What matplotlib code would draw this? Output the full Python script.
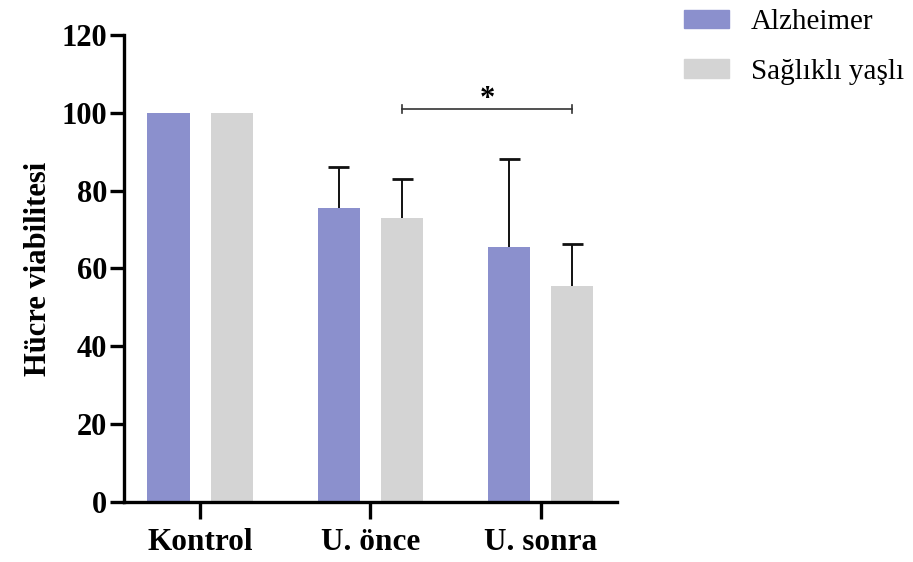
import numpy as np
import matplotlib
matplotlib.use('Agg')
import matplotlib.pyplot as plt
from matplotlib.patches import Patch

# --- Data ---
categories = ['Kontrol', 'U. önce', 'U. sonra']
groups = ['Alzheimer', 'Sağlıklı yaşlı']
alzheimer_mean = [100.0, 75.5, 65.6]
alzheimer_err = [0.0, 10.6, 22.6]
healthy_mean = [100.0, 73.0, 55.6]
healthy_err = [0.0, 10.0, 10.7]
y_ticks = [0, 20, 40, 60, 80, 100, 120]

# --- Style ---
COL_ALZ = '#8b90cd'
COL_HEALTHY = '#d4d4d4'
plt.rcParams['font.family'] = ['Liberation Serif', 'DejaVu Serif']

fig = plt.figure(figsize=(9.13, 5.62), dpi=100)
ax = fig.add_axes([0.1358, 0.1068, 0.54, 0.831])

x = np.arange(len(categories))
offset = 0.1855
width = 0.247
cap_half = 0.062


def upper_errors(xpos, means, errs):
    # only the upper whisker, like the original figure
    for xi, m, e in zip(xpos, means, errs):
        if e <= 0:
            continue
        ax.vlines(xi, m, m + e, color='#111111', lw=1.4, zorder=1)
        ax.hlines(m + e, xi - cap_half, xi + cap_half, color='#111111', lw=2.0, zorder=1)


ax.bar(x - offset, alzheimer_mean, width, color=COL_ALZ, zorder=2)
ax.bar(x + offset, healthy_mean, width, color=COL_HEALTHY, zorder=2)
upper_errors(x - offset, alzheimer_mean, alzheimer_err)
upper_errors(x + offset, healthy_mean, healthy_err)

# significance bracket
x1, x2 = 1 + offset, 2 + offset
y_sig = 101
ax.plot([x1, x2], [y_sig, y_sig], color='#333333', lw=1.2, clip_on=False)
ax.plot([x1, x1], [y_sig - 1, y_sig + 1], color='#333333', lw=1.2)
ax.plot([x2, x2], [y_sig - 1, y_sig + 1], color='#333333', lw=1.2)
ax.text((x1 + x2) / 2, y_sig - 1.4, '*', ha='center', va='bottom',
        fontsize=22, fontweight='bold')

ax.set_xlim(-0.447, 2.447)
ax.set_ylim(0, 120)
ax.set_yticks(y_ticks)
ax.set_yticklabels([str(v) for v in y_ticks], fontsize=22, fontweight='bold')
ax.set_xticks(x)
ax.set_xticklabels(categories, fontsize=22.5, fontweight='bold')
ax.set_ylabel('Hücre viabilitesi', fontsize=22, fontweight='bold', labelpad=6)

for side in ['top', 'right']:
    ax.spines[side].set_visible(False)
for side in ['left', 'bottom']:
    ax.spines[side].set_linewidth(2.4)
ax.tick_params(axis='y', length=10, width=2.4, pad=2)
ax.tick_params(axis='x', length=12, width=2.4, pad=7)

handles = [Patch(color=COL_ALZ), Patch(color=COL_HEALTHY)]
fig.legend(handles, groups, loc='upper left', bbox_to_anchor=(0.72, 1.03),
           frameon=False, fontsize=21, handlelength=1.55, handleheight=0.6,
           labelspacing=0.8, handletextpad=0.75)

fig.savefig('out.png', dpi=100)
